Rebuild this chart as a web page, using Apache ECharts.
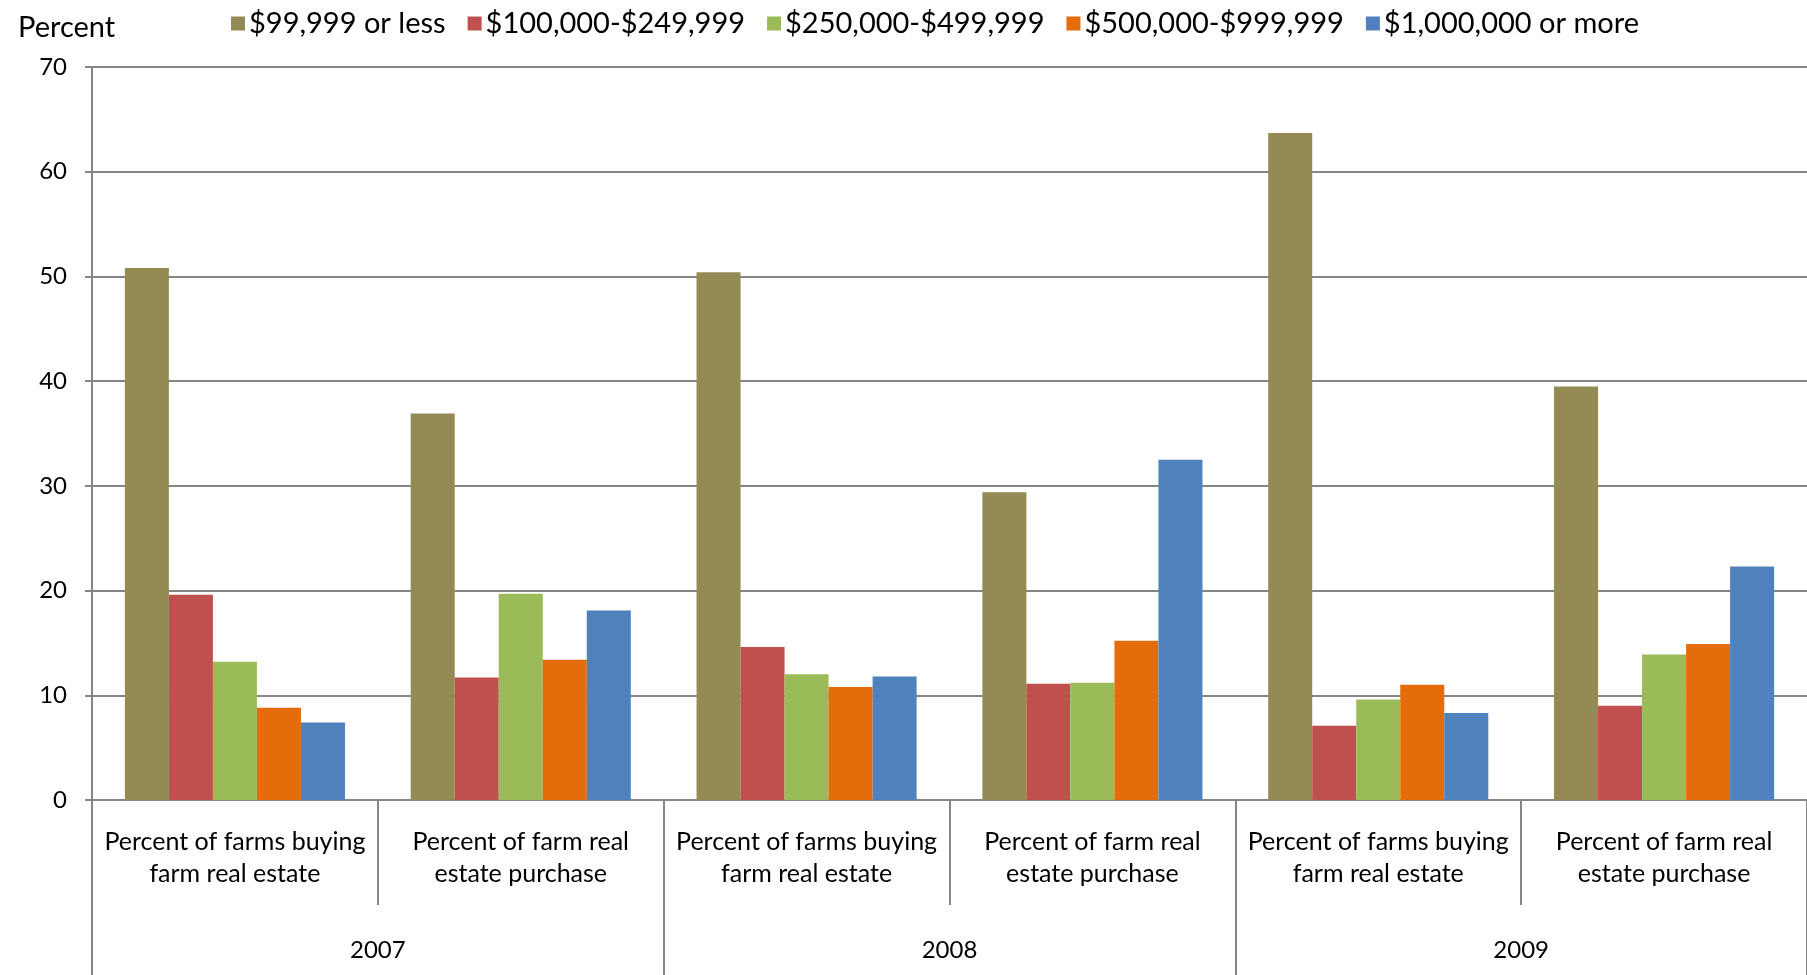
<!DOCTYPE html>
<html>
<head>
<meta charset="utf-8">
<title>Farm real estate purchases by sales class</title>
<script src="https://cdn.jsdelivr.net/npm/echarts@6/dist/echarts.min.js"></script>
<style>
  html, body { margin: 0; padding: 0; background: #ffffff; }
  #chart { width: 1807px; height: 975px; }
</style>
</head>
<body>
<div id="chart"></div>
<script>
// Inner category level: the two measures shown for each year
const measures = [
  'Percent of farms buying\nfarm real estate',
  'Percent of farm real\nestate purchase',
  'Percent of farms buying\nfarm real estate',
  'Percent of farm real\nestate purchase',
  'Percent of farms buying\nfarm real estate',
  'Percent of farm real\nestate purchase'
];
// Outer category level
const years = ['2007', '2008', '2009'];

// Sales classes (legend entries)
const salesClasses = [
  '$99,999 or less',
  '$100,000-$249,999',
  '$250,000-$499,999',
  '$500,000-$999,999',
  '$1,000,000 or more'
];

// Values in percent, one entry per measure/year column
const lessThan100k   = [50.8, 36.9, 50.4, 29.4, 63.7, 39.5];
const from100to250k  = [19.6, 11.7, 14.6, 11.1, 7.1, 9.0];
const from250to500k  = [13.2, 19.7, 12.0, 11.2, 9.6, 13.9];
const from500kto1m   = [8.8, 13.4, 10.8, 15.2, 11.0, 14.9];
const million_plus   = [7.4, 18.1, 11.8, 32.5, 8.3, 22.3];

// Y axis ticks
const yMin = 0, yMax = 70, yStep = 10;

const palette = ['#948A54', '#C0504D', '#9BBB59', '#E46C0A', '#4F81BD'];
const seriesValues = [lessThan100k, from100to250k, from250to500k, from500kto1m, million_plus];

const axisGray = '#868686';
const labelFont = 'Lato, "Open Sans", sans-serif';

const chart = echarts.init(document.getElementById('chart'), null, { renderer: 'canvas' });

chart.setOption({
  animation: false,
  backgroundColor: '#ffffff',
  color: palette,
  title: {
    text: 'Percent',
    left: 13,
    top: 8,
    textStyle: { fontFamily: labelFont, fontSize: 29, fontWeight: 'normal', color: '#000' }
  },
  legend: {
    data: salesClasses,
    left: 226,
    top: 4,
    icon: 'rect',
    itemWidth: 14,
    itemHeight: 14,
    itemGap: 22,
    textStyle: { fontFamily: labelFont, fontSize: 29, color: '#000', padding: [0, 0, 0, -1] }
  },
  grid: { left: 92, right: 0, top: 67, bottom: 175, containLabel: false },
  xAxis: [
    {
      type: 'category',
      data: measures,
      position: 'bottom',
      axisLine: { show: true, lineStyle: { color: axisGray, width: 2 } },
      axisTick: { show: true, length: 105, interval: 0, lineStyle: { color: axisGray, width: 2 } },
      axisLabel: {
        interval: 0,
        margin: 26,
        fontFamily: labelFont,
        fontSize: 25,
        lineHeight: 32,
        color: '#000'
      }
    },
    {
      type: 'category',
      data: years,
      position: 'bottom',
      axisLine: { show: false },
      axisTick: { show: true, length: 175, interval: 0, lineStyle: { color: axisGray, width: 2 } },
      axisLabel: {
        interval: 0,
        margin: 134,
        fontFamily: labelFont,
        fontSize: 24,
        lineHeight: 32,
        color: '#000'
      }
    }
  ],
  yAxis: {
    type: 'value',
    min: yMin,
    max: yMax,
    interval: yStep,
    axisLine: { show: true, lineStyle: { color: axisGray, width: 2 } },
    axisTick: { show: true, length: 7, lineStyle: { color: axisGray, width: 2 } },
    axisLabel: {
      margin: 25,
      fontFamily: labelFont,
      fontSize: 24,
      color: '#000'
    },
    splitLine: { show: true, lineStyle: { color: axisGray, width: 2 } }
  },
  series: salesClasses.map((name, i) => ({
    name: name,
    type: 'bar',
    xAxisIndex: 0,
    data: seriesValues[i],
    barGap: '0%',
    barCategoryGap: '23%',
    itemStyle: { color: palette[i] }
  }))
});
</script>
</body>
</html>
